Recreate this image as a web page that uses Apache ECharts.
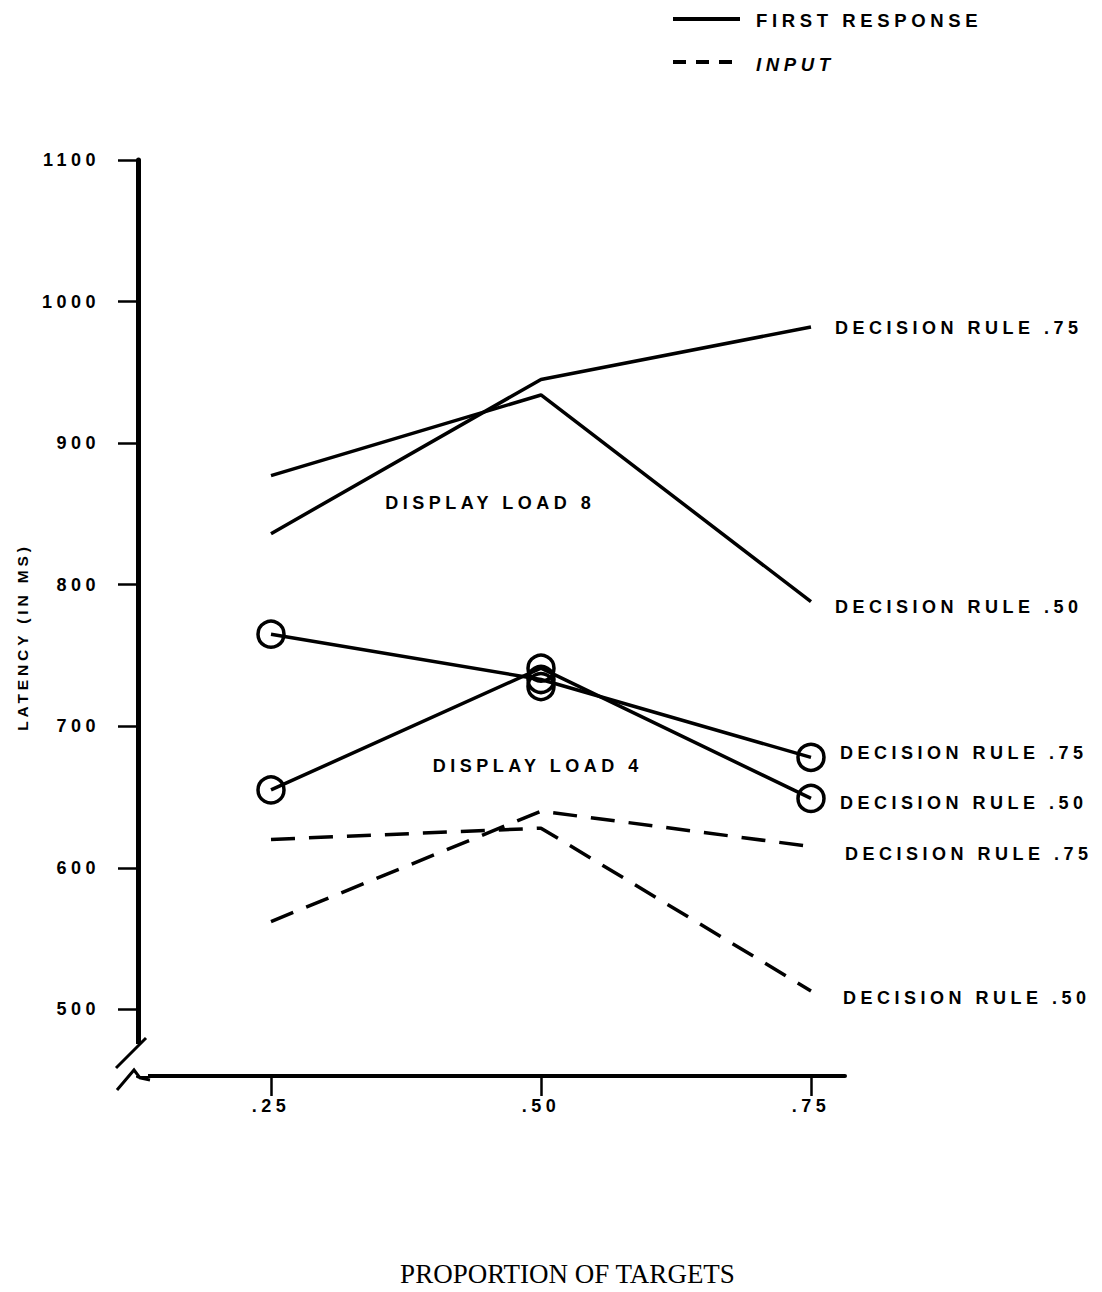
<!DOCTYPE html>
<html><head><meta charset="utf-8">
<script src="https://cdn.jsdelivr.net/npm/echarts@6/dist/echarts.min.js"></script>
<style>
html,body{margin:0;padding:0;background:#fff}
#chart{width:1102px;height:1292px}
#chart svg text{letter-spacing:0.25em}
#chart svg text[style*="Liberation Serif"]{letter-spacing:0}
</style></head><body><div id="chart"></div>
<script>
// ---- data ----
const proportions = [0.25, 0.50, 0.75];
const xTickLabels = ['.25', '.50', '.75'];
const yTicks = [500, 600, 700, 800, 900, 1000, 1100];
const load8Rule75 = [836, 945, 982];
const load8Rule50 = [877, 934, 788];
const load4Rule75 = [765, 733, 678];
const load4Rule50 = [655, 741, 649];
const load4ExtraCircleX = [0.50];
const load4ExtraCircleY = [728];
const inputRule75 = [562, 640, 615];
const inputRule50 = [620, 628, 513];
const load8LabelAt = [0.453, 858];
const load4LabelAt = [0.497, 672];

const SANS = '"Liberation Sans", Arial, sans-serif';
const SERIF = '"Liberation Serif", "Times New Roman", serif';
const INK = '#000';
const pairs = vals => proportions.map((p, i) => [p, vals[i]]);
const txt = (size) => ({ fontFamily: SANS, fontWeight: 'bold', fontSize: size, color: INK });

function endLbl(text, dx, dy) {
  return Object.assign({ show: true, formatter: text, distance: 0, offset: [dx, dy], align: 'left', verticalAlign: 'middle' }, txt(18));
}
function solid(name, vals, label, dx, dy, circles) {
  return {
    type: 'line', name: name, data: pairs(vals), silent: true,
    lineStyle: { color: INK, width: 3.5 },
    symbol: circles ? 'circle' : 'none', symbolSize: 26, showSymbol: !!circles,
    itemStyle: { color: 'rgba(0,0,0,0)', borderColor: INK, borderWidth: 3.5, opacity: 1 },
    endLabel: endLbl(label, dx, dy), z: 3
  };
}
function dashed(name, vals, label, dx, dy) {
  return {
    type: 'line', name: name, data: pairs(vals), silent: true,
    lineStyle: { color: INK, width: 3.5, type: [24, 14] },
    symbol: 'none', endLabel: endLbl(label, dx, dy), z: 3
  };
}
function note(text, at) {
  return {
    symbol: 'circle', symbolSize: 1, silent: true,
    itemStyle: { color: 'rgba(0,0,0,0)' },
    label: Object.assign({ show: true, position: 'inside', formatter: text }, txt(18)),
    data: [{ coord: at }]
  };
}

const s8a = solid('load8Rule75', load8Rule75, 'DECISION RULE .75', 24, 1, false);
const s8b = solid('load8Rule50', load8Rule50, 'DECISION RULE .50', 24, 5, false);
s8b.markPoint = note('DISPLAY LOAD 8', load8LabelAt);
const s4a = solid('load4Rule75', load4Rule75, 'DECISION RULE .75', 29, -4, true);
const s4b = solid('load4Rule50', load4Rule50, 'DECISION RULE .50', 29, 5, true);
s4b.markPoint = note('DISPLAY LOAD 4', load4LabelAt);

const chart = echarts.init(document.getElementById('chart'), null, { renderer: 'svg' });
chart.setOption({
  animation: false,
  backgroundColor: '#fff',
  grid: { left: 138, right: 257, top: 160, bottom: 212, containLabel: false },
  legend: {
    left: 673, top: 6, orient: 'vertical', itemWidth: 67, itemHeight: 14, itemGap: 25,
    selectedMode: false,
    textStyle: Object.assign({ padding: [0, 0, 0, 6] }, txt(18.5)),
    data: [
      { name: 'FIRST RESPONSE', icon: 'none' },
      { name: 'INPUT', icon: 'none', textStyle: { fontStyle: 'italic' } }
    ]
  },
  xAxis: {
    type: 'value', min: 0.12685, max: 0.7815,
    axisLine: { show: true, onZero: false, lineStyle: { color: INK, width: 4 } },
    axisTick: { show: true, length: 20, customValues: proportions, lineStyle: { color: INK, width: 2.5 } },
    axisLabel: Object.assign({ customValues: proportions, margin: 21,
      formatter: v => xTickLabels[proportions.indexOf(v)] }, txt(18)),
    splitLine: { show: false },
    name: 'PROPORTION OF TARGETS', nameLocation: 'middle', nameGap: 184,
    nameTextStyle: { fontFamily: SERIF, fontSize: 27, color: INK, padding: [0, 0, 0, 152] }
  },
  yAxis: {
    type: 'value', min: 452.9, max: 1100,
    axisLine: { show: true, onZero: false, lineStyle: { color: INK, width: 5 } },
    axisTick: { show: true, length: 20, customValues: yTicks, lineStyle: { color: INK, width: 2.5 } },
    axisLabel: Object.assign({ customValues: yTicks, margin: 38, formatter: v => String(v) }, txt(18)),
    splitLine: { show: false },
    name: 'LATENCY (IN MS)', nameLocation: 'middle', nameGap: 108,
    nameTextStyle: Object.assign({ padding: [0, 38, 0, 0] }, txt(15.5))
  },
  series: [
    { type: 'line', name: 'FIRST RESPONSE', data: [], symbol: 'none', lineStyle: { color: INK, width: 3.5 }, itemStyle: { color: INK } },
    { type: 'line', name: 'INPUT', data: [], symbol: 'none', lineStyle: { color: INK, width: 3.5, type: [10, 9] }, itemStyle: { color: INK } },
    s8a, s8b, s4a, s4b,
    {
      type: 'scatter', name: 'load4Extra', silent: true, symbol: 'circle', symbolSize: 26,
      itemStyle: { color: 'rgba(0,0,0,0)', borderColor: INK, borderWidth: 3.5, opacity: 1 },
      data: load4ExtraCircleX.map((x, i) => [x, load4ExtraCircleY[i]]), z: 4
    },
    dashed('inputRule75', inputRule75, 'DECISION RULE .75', 34, 7),
    dashed('inputRule50', inputRule50, 'DECISION RULE .50', 32, 7)
  ],
  graphic: [
    // legend line samples
    { type: 'line', shape: { x1: 673, y1: 19, x2: 740, y2: 19 }, style: { stroke: INK, lineWidth: 4 }, z: 100 },
    { type: 'line', shape: { x1: 673, y1: 62, x2: 740, y2: 62 }, style: { stroke: INK, lineWidth: 4, lineDash: [13, 10] }, z: 100 },
    // axis break
    { type: 'rect', shape: { x: 128, y: 1044, width: 20, height: 32 }, style: { fill: '#fff' }, z: 100 },
    { type: 'line', shape: { x1: 116, y1: 1068, x2: 146, y2: 1038 }, style: { stroke: INK, lineWidth: 3 }, z: 101 },
    { type: 'polyline', shape: { points: [[117, 1090], [134, 1070], [140, 1078], [150, 1080]] }, style: { stroke: INK, lineWidth: 3, fill: null }, z: 101 }
  ]
});
</script></body></html>
